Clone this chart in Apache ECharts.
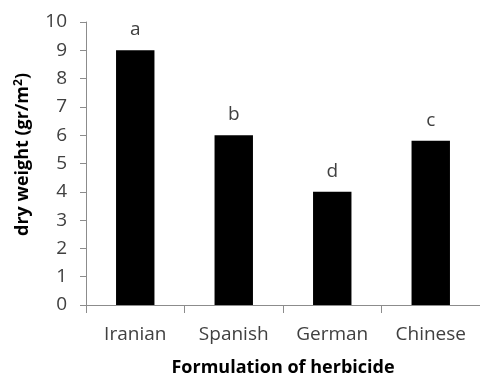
<!DOCTYPE html>
<html>
<head>
<meta charset="utf-8">
<script src="https://cdn.jsdelivr.net/npm/echarts@6/dist/echarts.min.js"></script>
<style>
html,body{margin:0;padding:0;background:#fff;}
#chart{width:480px;height:378px;}
</style>
</head>
<body>
<div id="chart"></div>
<script>
const categories = ['Iranian', 'Spanish', 'German', 'Chinese'];
const dryWeight = [9.0, 6.0, 4.0, 5.8];
const letters = ['a', 'b', 'd', 'c'];
const yTicks = [0, 10, 1];

const FONT = '"Open Sans", sans-serif';
const TXT = '#404040';
const AX = '#8c8c8c';

const chart = echarts.init(document.getElementById('chart'), null, {renderer: 'canvas'});
chart.setOption({
  animation: false,
  backgroundColor: '#ffffff',
  grid: {left: 86, right: 0, top: 22, bottom: 73, containLabel: false, outerBoundsMode: 'none'},
  xAxis: {
    type: 'category',
    data: categories,
    boundaryGap: true,
    axisLine: {show: true, lineStyle: {color: AX, width: 1}},
    axisTick: {show: true, length: 8, alignWithLabel: false, lineStyle: {color: AX}},
    axisLabel: {margin: 20, color: TXT, fontFamily: FONT, fontSize: 19},
    name: 'Formulation of herbicide',
    nameLocation: 'middle',
    nameGap: 54,
    nameTextStyle: {color: '#000', fontFamily: FONT, fontSize: 18, fontWeight: 'bold'}
  },
  yAxis: {
    type: 'value',
    min: yTicks[0], max: yTicks[1], interval: yTicks[2],
    axisLine: {show: true, lineStyle: {color: AX, width: 1}},
    axisTick: {show: true, length: 6, lineStyle: {color: AX}},
    splitLine: {show: false},
    axisLabel: {margin: 19, color: TXT, fontFamily: FONT, fontSize: 19},
    name: 'dry weight (gr/m{sup|2})',
    nameLocation: 'middle',
    nameGap: 53,
    nameTextStyle: {
      color: '#000', fontFamily: FONT, fontSize: 18, fontWeight: 'bold',
      padding: [0, 0, 0, 18],
      rich: {sup: {fontSize: 12, fontWeight: 'bold', fontFamily: FONT, color: '#000', verticalAlign: 'top', padding: [0, 0, 8, 0]}}
    }
  },
  series: [{
    type: 'bar',
    data: dryWeight,
    barWidth: '39%',
    itemStyle: {color: '#000000'},
    label: {
      show: true,
      position: 'top',
      distance: 11,
      color: TXT,
      fontFamily: FONT,
      fontSize: 19,
      formatter: p => letters[p.dataIndex]
    }
  }]
});
</script>
</body>
</html>
